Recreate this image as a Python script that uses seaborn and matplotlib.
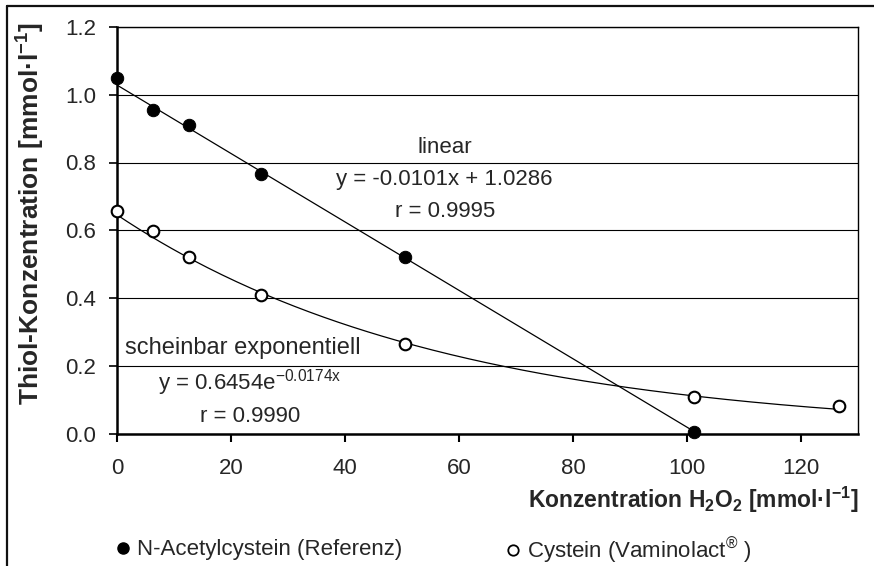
import numpy as np
import pandas as pd
import matplotlib
matplotlib.use("Agg")
import matplotlib.pyplot as plt
from matplotlib.lines import Line2D
from matplotlib.ticker import FormatStrFormatter
import seaborn as sns

# H2O2 concentrations [mmol/l] and measured thiol concentrations [mmol/l]
h2o2_nac = [0, 6.3, 12.7, 25.3, 50.6, 101.3]
thiol_nac = [1.050, 0.956, 0.912, 0.765, 0.522, 0.003]
h2o2_cys = [0, 6.3, 12.7, 25.3, 50.6, 101.3, 126.6]
thiol_cys = [0.657, 0.598, 0.521, 0.408, 0.263, 0.108, 0.082]

# regression results
lin_slope, lin_icpt, lin_r = -0.0101, 1.0286, 0.9995
exp_a, exp_b, exp_r = 0.6454, -0.0174, 0.9990

x_ticks = [0, 20, 40, 60, 80, 100, 120]
y_ticks = [0.0, 0.2, 0.4, 0.6, 0.8, 1.0, 1.2]

label_nac = "N-Acetylcystein (Referenz)"
label_cys = "Cystein (Vaminolact$^{\\circledR}$ )"

sns.set_theme(style="white")
plt.rcParams["font.family"] = ["Liberation Sans", "DejaVu Sans"]
plt.rcParams["mathtext.fontset"] = "custom"
plt.rcParams["mathtext.rm"] = "Liberation Sans"
plt.rcParams["mathtext.it"] = "Liberation Sans:italic"
plt.rcParams["mathtext.bf"] = "Liberation Sans:bold"
plt.rcParams["mathtext.sf"] = "Liberation Sans"

FS = 16

fig = plt.figure(figsize=(8.74, 5.66), dpi=100)
ax = fig.add_axes([117 / 874, 132.5 / 566, 741 / 874, 406.5 / 566])

# trendlines from the regression equations
xl = np.linspace(0, h2o2_nac[-1], 200)
xe = np.linspace(0, h2o2_cys[-1], 200)
trend = pd.DataFrame({"x": xl, "y": lin_icpt + lin_slope * xl})
trend_e = pd.DataFrame({"x": xe, "y": exp_a * np.exp(exp_b * xe)})
sns.lineplot(data=trend, x="x", y="y", color="black", lw=0.9, ax=ax, zorder=3)
sns.lineplot(data=trend_e, x="x", y="y", color="black", lw=0.9, ax=ax, zorder=3)

sns.scatterplot(x=h2o2_nac, y=thiol_nac, color="black", edgecolor="black",
                s=80, marker="o", ax=ax, zorder=5, clip_on=False)
sns.scatterplot(x=h2o2_cys, y=thiol_cys, color="white", edgecolor="black",
                linewidth=1.5, s=70, marker="o", ax=ax, zorder=5, clip_on=False)

ax.set_xlim(0, 130)
ax.set_ylim(0, 1.2)
ax.set_xticks(x_ticks)
ax.set_yticks(y_ticks)
ax.yaxis.set_major_formatter(FormatStrFormatter("%.1f"))
ax.set_xlabel("")
ax.set_ylabel("")

ax.yaxis.grid(True, color="black", lw=0.8)
ax.xaxis.grid(False)
ax.set_axisbelow(True)

for side in ["top", "right"]:
    ax.spines[side].set_linewidth(1.0)
    ax.spines[side].set_color("black")
for side in ["left", "bottom"]:
    ax.spines[side].set_linewidth(1.8)
    ax.spines[side].set_color("black")

ax.tick_params(axis="x", which="major", direction="out", length=6, width=1.5,
               color="black", labelsize=FS, pad=12, bottom=True)
ax.tick_params(axis="y", which="major", direction="out", length=6, width=1.2,
               color="black", labelsize=FS, pad=9, left=True)

# annotations
ax.text(57.5, 0.828, "linear", fontsize=FS, ha="center", va="baseline")
ax.text(57.5, 0.734, f"y = {lin_slope:.4f}x + {lin_icpt:.4f}", fontsize=FS,
        ha="center", va="baseline")
ax.text(57.5, 0.639, f"r = {lin_r:.4f}", fontsize=FS, ha="center", va="baseline")

ax.text(22.0, 0.234, "scheinbar exponentiell", fontsize=17, ha="center", va="baseline")
ax.text(23.3, 0.130, f"y = {exp_a:.4f}e$^{{\\mathrm{{{exp_b:.4f}x}}}}$", fontsize=FS,
        ha="center", va="baseline")
ax.text(23.3, 0.0325, f"r = {exp_r:.4f}", fontsize=FS, ha="center", va="baseline")

# axis titles
fig.text(31 / 874, 1 - 214 / 566, "Thiol-Konzentration [mmol·l$^{\\mathbf{-1}}$]",
         fontsize=19, fontweight="bold", rotation=90, ha="center", va="center")
fig.text(858 / 874, 1 - 500 / 566,
         "Konzentration H$_{\\mathbf{2}}$O$_{\\mathbf{2}}$ [mmol·l$^{\\mathbf{-1}}$]",
         fontsize=16.5, fontweight="bold", ha="right", va="center")

# legend entries
h_nac = Line2D([], [], marker="o", ls="none", color="black", markersize=8)
h_cys = Line2D([], [], marker="o", ls="none", markerfacecolor="white",
               markeredgecolor="black", markeredgewidth=1.3, markersize=7.5)
for handle, lab, x0 in [(h_nac, label_nac, 115), (h_cys, label_cys, 505)]:
    fig.legend([handle], [lab], loc="center left",
               bbox_to_anchor=(x0 / 874, 1 - 550 / 566), frameon=False,
               fontsize=FS, handlelength=0.7, handletextpad=0.3,
               borderpad=0, borderaxespad=0)

# outer chart frame
fig.add_artist(Line2D([7 / 874, 1], [1 - 6 / 566] * 2, transform=fig.transFigure,
                      color="#111111", lw=1.6))
fig.add_artist(Line2D([7 / 874] * 2, [0, 1 - 6 / 566], transform=fig.transFigure,
                      color="#111111", lw=1.6))

fig.savefig("out.png", dpi=100)
